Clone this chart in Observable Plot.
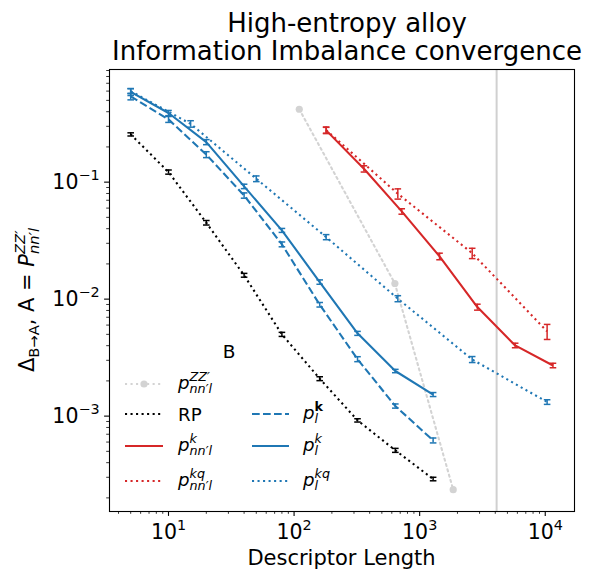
<!DOCTYPE html>
<html><head><meta charset="utf-8">
<script src="https://cdn.jsdelivr.net/npm/d3@7"></script>
<script src="https://cdn.jsdelivr.net/npm/@observablehq/plot@0.6"></script>
<style>
body{margin:0;background:#fff;}
#chart{position:relative;width:592px;height:569px;font-family:"DejaVu Sans";}
</style></head><body><div id="chart"></div>
<script>
// ---------- data ----------
const blueX = [5, 10, 20, 40, 80, 160, 320, 640, 1280];
const pLk = [0.59, 0.39, 0.22, 0.092, 0.0387, 0.0140, 0.0051, 0.00243, 0.00153];
const pLkErr = [0.04, 0.02, 0.011, 0.004, 0.0015, 0.0006, 0.0002, 0.00008, 0.00006];
const pLkBold = [0.54, 0.344, 0.172, 0.0769, 0.0294, 0.00896, 0.00307, 0.00122, 0.00062];
const pLkBoldErr = [0.035, 0.02, 0.01, 0.004, 0.0014, 0.0004, 0.00015, 0.00005, 0.00003];
const rp = [0.256, 0.122, 0.045, 0.016, 0.0050, 0.00209, 0.00092, 0.00051, 0.00029];
const rpErr = [0.008, 0.005, 0.002, 0.0006, 0.0002, 0.00008, 0.00003, 0.00002, 0.00001];
const kqX = [5, 15, 50, 180, 670, 2620, 10350];
const pLkq = [0.60, 0.315, 0.107, 0.0339, 0.0101, 0.00305, 0.00132];
const pLkqErr = [0.03, 0.02, 0.006, 0.0017, 0.0006, 0.00018, 0.00006];
const redX = [180, 360, 720, 1440, 2880, 5760, 11520];
const pNNk = [0.277, 0.130, 0.0562, 0.0232, 0.00855, 0.00402, 0.00271];
const pNNkErr = [0.017, 0.008, 0.003, 0.0015, 0.0005, 0.00018, 0.00012];
const redKqX = [180, 670, 2620, 10350];
const pNNkq = [0.279, 0.0796, 0.0247, 0.0053];
const pNNkqErr = [0.017, 0.008, 0.0025, 0.00078];
const zzX = [110, 635, 1850];
const zzY = [0.42, 0.0136, 0.000235];
const vlineX = [4100];

const xTicks = [10, 100, 1000, 10000];
const xTickLabels = ["10^1", "10^2", "10^3", "10^4"];
const yTicks = [0.001, 0.01, 0.1];
const yTickLabels = ["10^\u22123", "10^\u22122", "10^\u22121"];

const titleLines = ["High-entropy alloy", "Information Imbalance convergence"];
const xLabel = "Descriptor Length";
const legendTitle = "B";

// ---------- helpers ----------
const W = 592, H = 569, mL = 109, mR = 18, mT = 69, mB = 58;
const blue = "#1f77b4", red = "#d62728", black = "#000000", gray = "#d3d3d3";
const LW = 2.08;
const DOT = "2.08,3.44", DASH = "7.7,3.3";

function rows(xs, ys, es) {
  return xs.map((x, i) => ({x, y: ys[i], lo: es ? ys[i] - es[i] : ys[i], hi: es ? ys[i] + es[i] : ys[i]}));
}
const capSymbol = {draw(ctx, size) { const h = Math.sqrt(size / Math.PI); ctx.moveTo(-h, 0); ctx.lineTo(h, 0); }};

function series(data, color, dash) {
  return [
    Plot.line(data, {x: "x", y: "y", stroke: color, strokeWidth: LW, strokeDasharray: dash || null, strokeLinecap: "butt"}),
    Plot.ruleX(data, {x: "x", y1: "lo", y2: "hi", stroke: color, strokeWidth: 1.5}),
    Plot.dot(data, {x: "x", y: "lo", symbol: capSymbol, r: 3.3, stroke: color, strokeWidth: 1.5, fill: "none"}),
    Plot.dot(data, {x: "x", y: "hi", symbol: capSymbol, r: 3.3, stroke: color, strokeWidth: 1.5, fill: "none"})
  ];
}

const xDomain = [3.39, 17100], yDomain = [1.53e-4, 0.918];
const xMinor = [], yMinor = [];
for (let e = 0; e <= 4; e++) for (let m = 2; m <= 9; m++) { const v = m * 10 ** e; if (v > xDomain[0] && v < xDomain[1]) xMinor.push(v); }
for (let e = -4; e <= -1; e++) for (let m = 2; m <= 9; m++) { const v = m * 10 ** e; if (v > yDomain[0] && v < yDomain[1]) yMinor.push(v); }

const zz = rows(zzX, zzY);

const chart = Plot.plot({
  width: W, height: H,
  marginLeft: mL, marginRight: mR, marginTop: mT, marginBottom: mB,
  style: {fontFamily: "DejaVu Sans", background: "white", color: "black"},
  x: {type: "log", domain: xDomain},
  y: {type: "log", domain: yDomain},
  marks: [
    Plot.ruleX(vlineX, {x: d => d, stroke: "#d0d0d0", strokeWidth: 2}),
    Plot.line(zz, {x: "x", y: "y", stroke: gray, strokeWidth: LW, strokeDasharray: DOT}),
    Plot.dot(zz, {x: "x", y: "y", r: 3.6, fill: gray}),
    ...series(rows(blueX, rp, rpErr), black, DOT),
    ...series(rows(redX, pNNk, pNNkErr), red),
    ...series(rows(redKqX, pNNkq, pNNkqErr), red, DOT),
    ...series(rows(blueX, pLkBold, pLkBoldErr), blue, DASH),
    ...series(rows(blueX, pLk, pLkErr), blue),
    ...series(rows(kqX, pLkq, pLkqErr), blue, DOT),
    Plot.frame({stroke: "black", strokeWidth: 1.1}),
    Plot.axisX(xMinor, {tickSize: 2.8, strokeWidth: 0.8, tickFormat: () => "", label: null}),
    Plot.axisY(yMinor, {tickSize: 2.8, strokeWidth: 0.8, tickFormat: () => "", label: null}),
    Plot.axisX(xTicks, {tickSize: 4.9, strokeWidth: 1.1, tickPadding: 8, fontSize: 20.5,
      tickFormat: d => xTickLabels[xTicks.indexOf(d)], label: null}),
    Plot.axisY(yTicks, {tickSize: 4.9, strokeWidth: 1.1, tickPadding: 5, fontSize: 20.5,
      tickFormat: d => yTickLabels[yTicks.indexOf(d)], label: null})
  ]
});
document.getElementById("chart").appendChild(chart);

const svg = d3.select(chart);

// tick labels with superscripts
svg.selectAll('g[aria-label$="tick label"] text').each(function() {
  const s = this.textContent;
  if (!s.includes("^")) return;
  const [b, e] = s.split("^");
  this.textContent = "";
  const t = d3.select(this);
  t.append("tspan").text(b);
  t.append("tspan").text(e).attr("font-size", "0.7em").attr("dy", "-0.62em");
});

// math text helper
function mathText(sel, parts, fs) {
  let cur = 0, lastW = 0;
  parts.forEach(p => {
    const size = p.pos === "base" ? fs : 0.7 * fs;
    const target = p.pos === "sup" ? -0.42 * fs : p.pos === "sub" ? 0.24 * fs : 0;
    const ts = sel.append("tspan").text(p.t)
      .attr("font-size", size)
      .attr("font-style", p.it ? "italic" : "normal")
      .attr("font-weight", p.bf ? "bold" : "normal")
      .attr("dy", target - cur);
    if (p.back) ts.attr("dx", -lastW);
    cur = target;
    lastW = ts.node().getComputedTextLength();
  });
}

// title
titleLines.forEach((t, i) => {
  svg.append("text").attr("x", 347).attr("y", 31.5 + i * 28.8)
    .attr("text-anchor", "middle").attr("font-size", 26).attr("fill", "black").text(t);
});
// x label
svg.append("text").attr("x", 341.5).attr("y", 565).attr("text-anchor", "middle")
  .attr("font-size", 21).attr("fill", "black").text(xLabel);
// y label
const yl = svg.append("text").attr("transform", "translate(34,300) rotate(-90)")
  .attr("text-anchor", "middle").attr("fill", "black");
mathText(yl, [
  {t: "\u0394", pos: "base"},
  {t: "B\u2192A", pos: "sub"},
  {t: ", A = ", pos: "base"},
  {t: "P", pos: "base", it: true},
  {t: "ZZ\u2032", pos: "sup", it: true},
  {t: "nn\u2032l", pos: "sub", it: true, back: true}
], 21);

// legend
const LFS = 18.2;
const lg = svg.append("g").attr("font-size", LFS).attr("fill", "black").attr("text-anchor", "start");
lg.append("text").attr("x", 229).attr("y", 358).attr("text-anchor", "middle").attr("font-size", 18.5).text(legendTitle);
const entries = [
  {x0: 125, x1: 163, lx: 178, y: 384, color: gray, dash: DOT, marker: true,
    parts: [{t: "p", pos: "base", it: true}, {t: "ZZ\u2032", pos: "sup", it: true}, {t: "nn\u2032l", pos: "sub", it: true, back: true}]},
  {x0: 125, x1: 163, lx: 178, y: 414, color: black, dash: DOT, parts: [{t: "RP", pos: "base"}], off: 6.5},
  {x0: 125, x1: 163, lx: 178, y: 446, color: red, dash: null,
    parts: [{t: "p", pos: "base", it: true}, {t: "k", pos: "sup", it: true}, {t: "nn\u2032l", pos: "sub", it: true, back: true}]},
  {x0: 125, x1: 163, lx: 178, y: 481, color: red, dash: DOT,
    parts: [{t: "p", pos: "base", it: true}, {t: "kq", pos: "sup", it: true}, {t: "nn\u2032l", pos: "sub", it: true, back: true}]},
  {x0: 252, x1: 289, lx: 303, y: 414, color: blue, dash: DASH,
    parts: [{t: "p", pos: "base", it: true}, {t: "k", pos: "sup", bf: true}, {t: "l", pos: "sub", it: true, back: true}]},
  {x0: 252, x1: 289, lx: 303, y: 446, color: blue, dash: null,
    parts: [{t: "p", pos: "base", it: true}, {t: "k", pos: "sup", it: true}, {t: "l", pos: "sub", it: true, back: true}]},
  {x0: 252, x1: 289, lx: 303, y: 481, color: blue, dash: DOT,
    parts: [{t: "p", pos: "base", it: true}, {t: "kq", pos: "sup", it: true}, {t: "l", pos: "sub", it: true, back: true}]}
];
entries.forEach(e => {
  const ln = lg.append("line").attr("x1", e.x0).attr("x2", e.x1).attr("y1", e.y).attr("y2", e.y)
    .attr("stroke", e.color).attr("stroke-width", LW);
  if (e.dash) ln.attr("stroke-dasharray", e.dash);
  if (e.marker) lg.append("circle").attr("cx", (e.x0 + e.x1) / 2).attr("cy", e.y).attr("r", 3.6).attr("fill", e.color);
  const t = lg.append("text").attr("x", e.lx).attr("y", e.y + (e.off || 5)).attr("text-anchor", "start");
  mathText(t, e.parts, LFS);
});
</script></body></html>
